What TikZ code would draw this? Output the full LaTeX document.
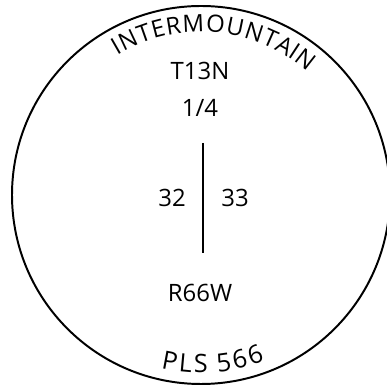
\documentclass[tikz,border=0pt]{standalone}
\usepackage{fontspec}
\setmainfont{Open Sans}
\usetikzlibrary{decorations.text}

\tikzset{
  twp/.style={font=\fontsize{17}{20}\selectfont, inner sep=0pt},
  ring/.style={line width=1.4pt},
}

\begin{document}
\begin{tikzpicture}[x=0.025cm, y=0.025cm]
    \useasboundingbox (0,0) rectangle (387,387);

    % Outer ring
    \coordinate (centre) at (201,192);
    \draw[ring] (centre) circle[radius=189];

    % Township, range and sections
    \node[twp] (twp) at (200,316) {T13N};
    \node[twp] (quarter) at (200,279) {1/4};
    \node[twp] (sec32) at (172,189) {32};
    \node[twp] (sec33) at (235,189) {33};
    \node[twp] (rng) at (200,94) {R66W};

    % Section line
    \coordinate (divtop) at (203,244);
    \coordinate (divbot) at (203,134);
    \draw[line width=1pt] (divtop) -- (divbot);

    % Curved texts
    \path[decorate, decoration={text effects along path, text={INTERMOUNTAIN},
        text effects/.cd, text along path, fit text to path,
        characters={font=\fontsize{17}{20}\selectfont}}]
        ([shift={(121:163)}]centre) arc[start angle=121, end angle=49, radius=163];
    \path[decorate, decoration={text effects along path, text={PLS 566},
        text effects/.cd, text along path, fit text to path,
        characters={font=\fontsize{18}{21}\selectfont}}]
        ([shift={(257:178)}]centre) arc[start angle=257, end angle=291, radius=178];
\end{tikzpicture}
\end{document}
